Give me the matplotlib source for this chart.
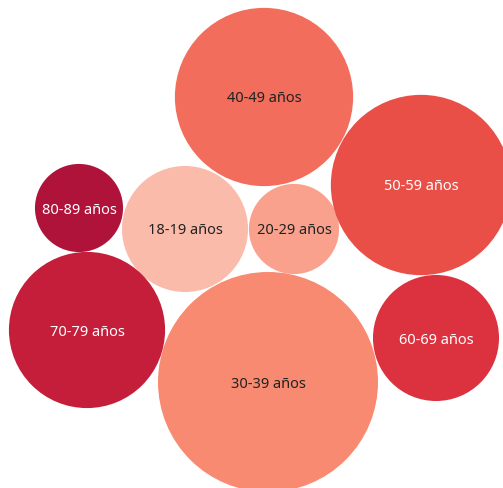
import matplotlib
matplotlib.use("Agg")
import matplotlib.pyplot as plt
from matplotlib.patches import Circle
import numpy as np

# share of cases by age group (%)
groups = ["18-19 años", "20-29 años", "30-39 años", "40-49 años",
          "50-59 años", "60-69 años", "70-79 años", "80-89 años"]
share = [8.6, 4.4, 26.2, 17.2, 17.6, 8.6, 13.2, 4.2]

colors = ["#FBBBAA", "#F9A18C", "#F88A71", "#F26D5B",
          "#EA4F47", "#DC3240", "#C41E3A", "#B0133A"]
text_colors = ["#222222", "#222222", "#222222", "#222222",
               "#FFFFFF", "#FFFFFF", "#FFFFFF", "#FFFFFF"]

# packed layout (bubble centers, pixel space)
layout_x = [185, 294, 268, 264, 421, 436, 87, 79]
layout_y = [229, 229, 382, 97, 185, 338, 330, 208]

scale = 110 / np.sqrt(max(share))

fig = plt.figure(figsize=(5.03, 4.88), dpi=100)
ax = fig.add_axes([0, 0, 1, 1])
ax.set_xlim(0, 503)
ax.set_ylim(488, 0)
ax.set_aspect("equal")
ax.axis("off")

for g, v, c, tc, x, y in zip(groups, share, colors, text_colors, layout_x, layout_y):
    r = scale * np.sqrt(v)
    ax.add_patch(Circle((x, y), r, facecolor=c, edgecolor="none"))
    ax.text(x, y, g, ha="center", va="center_baseline", color=tc,
            fontsize=10.5, family="Noto Sans")

fig.savefig("out.png", dpi=100)
